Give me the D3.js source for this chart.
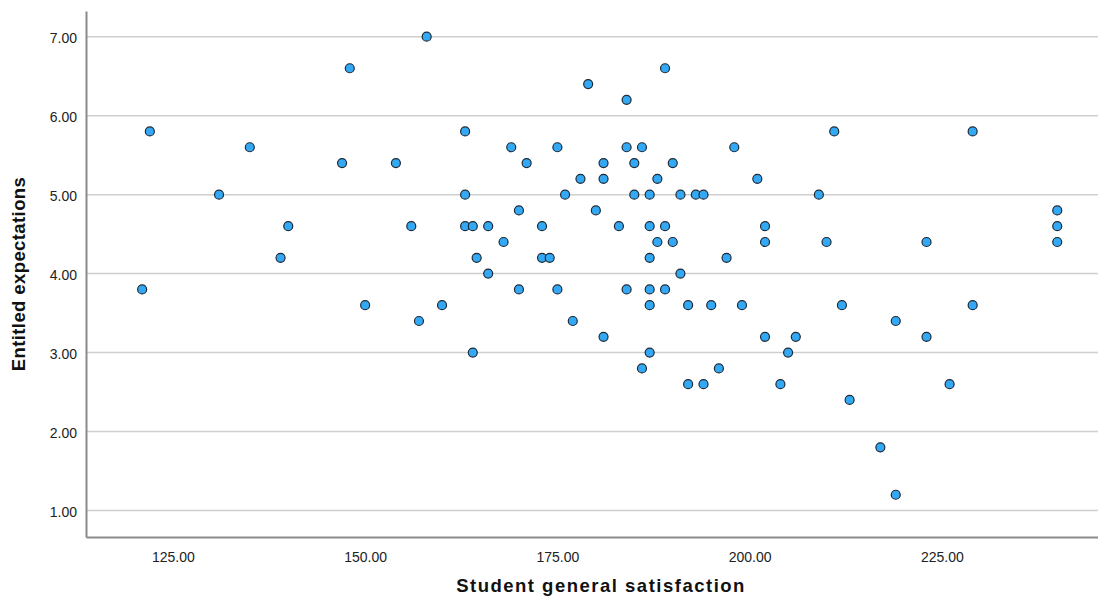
<!DOCTYPE html>
<meta charset="utf-8">
<style>
  body { margin: 0; background: #fff; }
  .tick text { font: 14px "Liberation Sans", Arial, sans-serif; fill: #222; }
  .title { font: bold 18.5px "Liberation Sans", Arial, sans-serif; fill: #111; }
</style>
<body>
<script src="https://cdn.jsdelivr.net/npm/d3@7"></script>
<script>

// Student general satisfaction (x) and entitled expectations (y)
var satisfaction = [122, 148, 135, 131, 140, 139, 147, 154, 121, 158,
                    189, 179, 184, 163, 169, 175, 184, 186, 198, 171,
                    181, 185, 190, 178, 181, 188, 201, 163, 176, 185,
                    187, 191, 193, 194, 170, 180, 156, 163, 164, 166,
                    173, 183, 187, 189, 202, 168, 188, 190, 202, 164.5,
                    173, 174, 187, 197, 166, 191, 170, 175, 184, 187,
                    189, 211, 229, 209, 240, 240, 210, 223, 240, 150,
                    160, 157, 177, 164, 181, 187, 192, 195, 199, 202,
                    187, 186, 196, 192, 194, 204, 212, 229, 219, 206,
                    223, 205, 226, 213, 217, 219];
var entitled = [5.8, 6.6, 5.6, 5.0, 4.6, 4.2, 5.4, 5.4, 3.8, 7.0,
                6.6, 6.4, 6.2, 5.8, 5.6, 5.6, 5.6, 5.6, 5.6, 5.4,
                5.4, 5.4, 5.4, 5.2, 5.2, 5.2, 5.2, 5.0, 5.0, 5.0,
                5.0, 5.0, 5.0, 5.0, 4.8, 4.8, 4.6, 4.6, 4.6, 4.6,
                4.6, 4.6, 4.6, 4.6, 4.6, 4.4, 4.4, 4.4, 4.4, 4.2,
                4.2, 4.2, 4.2, 4.2, 4.0, 4.0, 3.8, 3.8, 3.8, 3.8,
                3.8, 5.8, 5.8, 5.0, 4.8, 4.6, 4.4, 4.4, 4.4, 3.6,
                3.6, 3.4, 3.4, 3.0, 3.2, 3.6, 3.6, 3.6, 3.6, 3.2,
                3.0, 2.8, 2.8, 2.6, 2.6, 2.6, 3.6, 3.6, 3.4, 3.2,
                3.2, 3.0, 2.6, 2.4, 1.8, 1.2];

var xTicks = [125, 150, 175, 200, 225];
var yTicks = [1, 2, 3, 4, 5, 6, 7];

var xLabel = "Student general satisfaction",
    yLabel = "Entitled expectations";

var points = satisfaction.map(function (d, i) { return {q: d, p: entitled[i]}; });

var margin = {top: 11, right: 0, bottom: 62, left: 86},
    width = 1098 - margin.left - margin.right,
    height = 599 - margin.top - margin.bottom;

var x = d3.scaleLinear()
    .domain([113.7, 245.3])
    .range([0, width]);

var y = d3.scaleLinear()
    .domain([0.665, 7.325])
    .range([height, 0]);

var svg = d3.select("body").append("svg")
    .attr("width", width + margin.left + margin.right)
    .attr("height", height + margin.top + margin.bottom)
  .append("g")
    .attr("transform", "translate(" + margin.left + "," + margin.top + ")");

// horizontal gridlines
svg.append("g")
    .selectAll("line")
    .data(yTicks)
  .enter().append("line")
    .attr("x1", 0)
    .attr("x2", width)
    .attr("y1", function (d) { return y(d); })
    .attr("y2", function (d) { return y(d); })
    .style("stroke", "#cfcfcf")
    .style("stroke-width", 1.5);

var gX = svg.append("g")
    .attr("transform", "translate(0," + height + ")")
    .call(d3.axisBottom(x).tickValues(xTicks).tickSize(0).tickPadding(12)
      .tickFormat(d3.format(".2f")));

var gY = svg.append("g")
    .call(d3.axisLeft(y).tickValues(yTicks).tickSize(0).tickPadding(9)
      .tickFormat(d3.format(".2f")));

gX.select(".domain").style("stroke", "#8a8a8a").style("stroke-width", 2);
gY.select(".domain").style("stroke", "#8a8a8a").style("stroke-width", 2);
gX.selectAll(".tick text").attr("dy", "0.95em");
gY.selectAll(".tick text").attr("dy", "0.4em");

svg.append("g")
    .selectAll("circle")
    .data(points)
  .enter().append("circle")
    .attr("cx", function (d) { return x(d.q); })
    .attr("cy", function (d) { return y(d.p); })
    .attr("r", 4.5)
    .style("fill", "#33a8f4")
    .style("stroke", "#1e2a36")
    .style("stroke-width", 1.2);

svg.append("text")
    .attr("class", "title")
    .attr("x", 601 - margin.left)
    .attr("y", height + 55)
    .attr("text-anchor", "middle")
    .style("letter-spacing", "1.5px")
    .text(xLabel);

svg.append("text")
    .attr("class", "title")
    .attr("transform", "translate(" + (-61) + "," + (274 - margin.top) + ") rotate(-90)")
    .attr("text-anchor", "middle")
    .style("letter-spacing", "0.4px")
    .text(yLabel);

</script>
</body>
